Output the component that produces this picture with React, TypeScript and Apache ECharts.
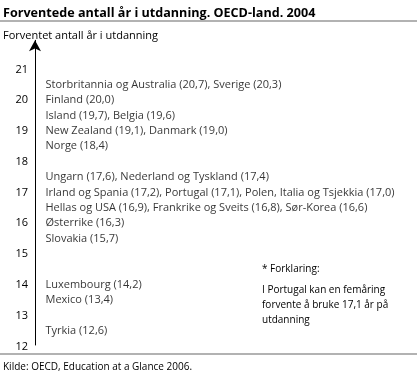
import React, { useEffect, useRef } from "react";
import * as echarts from "echarts";

const titleText = "Forventede antall år i utdanning. OECD-land. 2004";
const axisTitle = "Forventet antall år i utdanning";
const sourceText = "Kilde: OECD, Education at a Glance 2006.";
const noteHeading = "* Forklaring:";
const noteLines = ["I Portugal kan en femåring", "forvente å bruke 17,1 år på", "utdanning"];

const rowTexts = [
  "Storbritannia og Australia (20,7), Sverige (20,3)",
  "Finland (20,0)",
  "Island (19,7), Belgia (19,6)",
  "New Zealand (19,1), Danmark (19,0)",
  "Norge (18,4)",
  "Ungarn (17,6), Nederland og Tyskland (17,4)",
  "Irland og Spania (17,2), Portugal (17,1), Polen, Italia og Tsjekkia (17,0)",
  "Hellas og USA (16,9), Frankrike og Sveits (16,8), Sør-Korea (16,6)",
  "Østerrike (16,3)",
  "Slovakia (15,7)",
  "Luxembourg (14,2)",
  "Mexico (13,4)",
  "Tyrkia (12,6)",
];
const rowValues = [20.7, 20.0, 19.7, 19.1, 18.4, 17.6, 17.2, 16.9, 16.3, 15.7, 14.2, 13.4, 12.6];

const yMin = 12;
const yMax = 21;
const yAxisEnd = 21.9;

const FONT = "'Open Sans', sans-serif";

export default function App() {
  const ref = useRef<HTMLDivElement>(null);
  useEffect(() => {
    document.body.style.margin = "0";
    if (!ref.current) return;
    const chart = echarts.init(ref.current, null, { renderer: "svg" });

    const gridBottomY = 345;
    const ppu = (345 - 68) / (yMax - yMin);
    const gridHeight = ppu * (yAxisEnd - yMin);
    const gridTop = gridBottomY - gridHeight;

    // label rows snap to half-unit slots, avoiding collisions
    const slots: number[] = [];
    rowValues.forEach((v, i) => {
      let s = Math.round(v * 2) / 2;
      if (i > 0 && s > slots[i - 1] - 0.5) s = slots[i - 1] - 0.5;
      slots.push(s);
    });

    chart.setOption({
      animation: false,
      grid: { left: 35, right: 10, top: gridTop, height: gridHeight },
      xAxis: { type: "value", min: 0, max: 1, show: false },
      yAxis: {
        type: "value",
        min: yMin,
        max: yAxisEnd,
        interval: 1,
        axisLine: {
          show: true,
          symbol: ["none", "arrow"],
          symbolSize: [9, 11],
          lineStyle: { color: "#000", width: 1 },
        },
        axisTick: { show: false },
        splitLine: { show: false },
        axisLabel: {
          showMaxLabel: false,
          margin: 7,
          color: "#000",
          fontSize: 11,
          fontFamily: FONT,
          formatter: (v: number) => (v <= yMax ? String(v) : ""),
        },
      },
      series: [
        {
          type: "scatter",
          symbolSize: 1,
          itemStyle: { color: "rgba(0,0,0,0)" },
          data: rowValues.map((v) => [0, v]),
          label: {
            show: true,
            position: "right",
            distance: 10,
            color: "#000",
            fontSize: 11,
            fontFamily: FONT,
            formatter: (p: any) => rowTexts[p.dataIndex],
          },
          labelLayout: (p: any) => ({
            dy: (rowValues[p.dataIndex] - slots[p.dataIndex]) * ppu,
          }),
        },
      ],
      graphic: [
        {
          type: "text",
          x: 3,
          y: 12,
          style: { text: titleText, fontSize: 12.6, fontWeight: "bold", fontFamily: FONT, fill: "#000", verticalAlign: "middle" },
        },
        { type: "line", shape: { x1: 0, y1: 21, x2: 417, y2: 21 }, style: { stroke: "#999", lineWidth: 1.5 } },
        {
          type: "text",
          x: 3,
          y: 34,
          style: { text: axisTitle, fontSize: 11, fontFamily: FONT, fill: "#000", verticalAlign: "middle" },
        },
        {
          type: "text",
          x: 262,
          y: 268,
          style: { text: noteHeading, fontSize: 10, fontFamily: FONT, fill: "#000", verticalAlign: "middle" },
        },
        ...noteLines.map((t, i) => ({
          type: "text",
          x: 262,
          y: 289 + i * 15,
          style: { text: t, fontSize: 10, fontFamily: FONT, fill: "#000", verticalAlign: "middle" },
        })),
        { type: "line", shape: { x1: 0, y1: 354, x2: 417, y2: 354 }, style: { stroke: "#999", lineWidth: 1.5 } },
        {
          type: "text",
          x: 3,
          y: 366,
          style: { text: sourceText, fontSize: 10, fontFamily: FONT, fill: "#000", verticalAlign: "middle" },
        },
      ],
    });
    return () => chart.dispose();
  }, []);
  return <div ref={ref} style={{ position: "fixed", left: 0, top: 0, width: 417, height: 373 }} />;
}
